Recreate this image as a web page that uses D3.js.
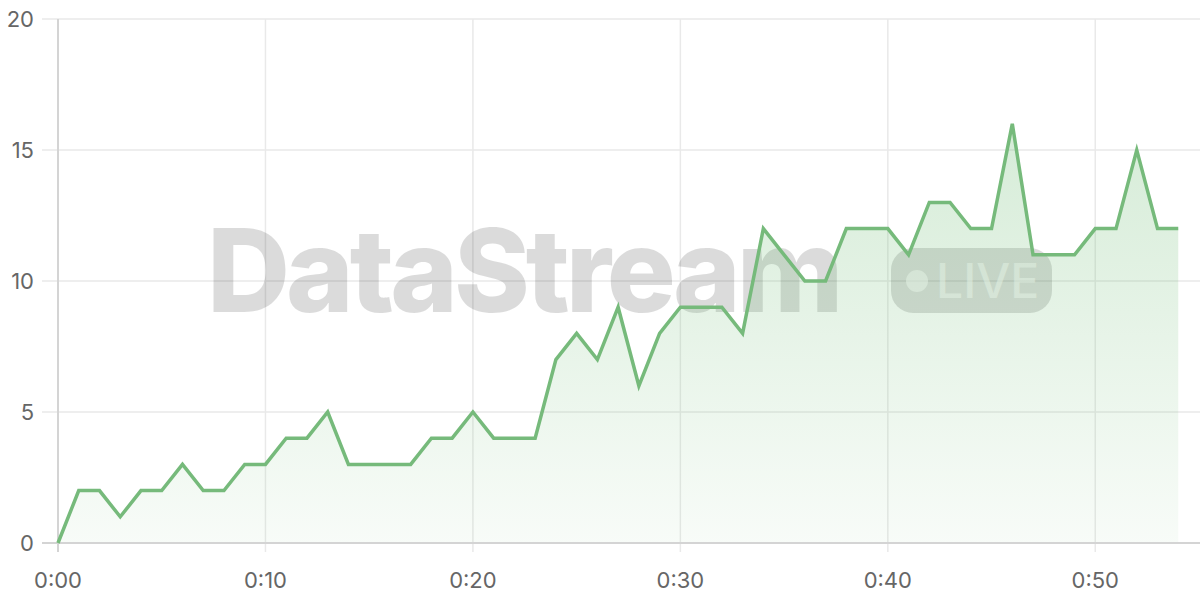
<!DOCTYPE html>
<html>
<head>
<meta charset="utf-8">
<script src="https://cdn.jsdelivr.net/npm/d3@7"></script>
<style>
  html, body { margin: 0; padding: 0; background: #fff; }
  svg { display: block; }
</style>
</head>
<body>
<script>
// minutes since start, one reading per minute
var minutes = d3.range(0, 55);
var values = [0,2,2,1,2,2,3,2,2,3, 3,4,4,5,3,3,3,3,4,4,
              5,4,4,4,7,8,7,9,6,8, 9,9,9,8,12,11,10,10,12,12,
              12,11,13,13,12,12,16,11,11,11, 12,12,15,12,12];
var yTicks = [0, 5, 10, 15, 20];
var xTicks = [0, 10, 20, 30, 40, 50];
var xLabels = ['0:00', '0:10', '0:20', '0:30', '0:40', '0:50'];

var W = 1200, H = 600;
var svg = d3.select('body').append('svg').attr('width', W).attr('height', H);

var x = d3.scaleLinear().domain([0, 55]).range([58, 1199]);
var y = d3.scaleLinear().domain([0, 20]).range([543, 19]);

var defs = svg.append('defs');
var grad = defs.append('linearGradient').attr('id', 'fillGrad')
    .attr('x1', 0).attr('y1', 0).attr('x2', 0).attr('y2', 1);
grad.append('stop').attr('offset', '0%').attr('stop-color', '#6cbb72').attr('stop-opacity', 0.28);
grad.append('stop').attr('offset', '100%').attr('stop-color', '#6cbb72').attr('stop-opacity', 0.05);

// gridlines
svg.append('g').selectAll('line').data(yTicks).enter().append('line')
    .attr('x1', 42).attr('x2', 1200)
    .attr('y1', function(d){ return y(d); }).attr('y2', function(d){ return y(d); })
    .attr('stroke', '#e9e9e9').attr('stroke-width', 1.5);
svg.append('g').selectAll('line').data(xTicks.slice(1)).enter().append('line')
    .attr('y1', 19).attr('y2', 552)
    .attr('x1', function(d){ return x(d); }).attr('x2', function(d){ return x(d); })
    .attr('stroke', '#e9e9e9').attr('stroke-width', 1.5);

// watermark
var wm = svg.append('g');
wm.append('text').attr('x', 207).attr('y', 312)
    .attr('font-family', 'Inter, "Noto Sans", sans-serif').attr('font-weight', 800)
    .attr('font-size', 115).attr('letter-spacing', -4)
    .attr('fill', '#000').attr('fill-opacity', 0.14).text('DataStream');
wm.append('rect').attr('x', 891).attr('y', 248).attr('width', 161).attr('height', 65)
    .attr('rx', 22).attr('fill', '#000').attr('fill-opacity', 0.14);
wm.append('circle').attr('cx', 917).attr('cy', 281).attr('r', 11)
    .attr('fill', '#fff').attr('fill-opacity', 0.55);
wm.append('text').attr('x', 936).attr('y', 298)
    .attr('font-family', 'Inter, "Noto Sans", sans-serif').attr('font-weight', 500)
    .attr('font-size', 48).attr('fill', '#fff').attr('fill-opacity', 0.55).text('LIVE');

// area + line
var area = d3.area()
    .x(function(d, i){ return x(minutes[i]); })
    .y0(y(0)).y1(function(d){ return y(d); });
var line = d3.line()
    .x(function(d, i){ return x(minutes[i]); })
    .y(function(d){ return y(d); });

svg.append('path').datum(values).attr('d', area).attr('fill', 'url(#fillGrad)');

// axes
svg.append('line').attr('x1', 58).attr('x2', 58).attr('y1', 19).attr('y2', 552)
    .attr('stroke', '#d4d4d4').attr('stroke-width', 2);
svg.append('line').attr('x1', 42).attr('x2', 1200).attr('y1', 543).attr('y2', 543)
    .attr('stroke', '#d4d4d4').attr('stroke-width', 2);

svg.append('path').datum(values).attr('d', line)
    .attr('fill', 'none').attr('stroke', '#76ba7b').attr('stroke-width', 3.5)
    .attr('stroke-linejoin', 'miter');

// tick labels
svg.append('g').selectAll('text').data(yTicks).enter().append('text')
    .attr('x', 34).attr('y', function(d){ return y(d); }).attr('dy', '0.36em')
    .attr('text-anchor', 'end')
    .attr('font-family', 'Inter, "Noto Sans", sans-serif').attr('font-size', 22)
    .attr('fill', '#666').text(function(d){ return d; });
svg.append('g').selectAll('text').data(xTicks).enter().append('text')
    .attr('x', function(d){ return x(d); }).attr('y', 588)
    .attr('text-anchor', 'middle')
    .attr('font-family', 'Inter, "Noto Sans", sans-serif').attr('font-size', 22)
    .attr('fill', '#666').text(function(d, i){ return xLabels[i]; });
</script>
</body>
</html>
